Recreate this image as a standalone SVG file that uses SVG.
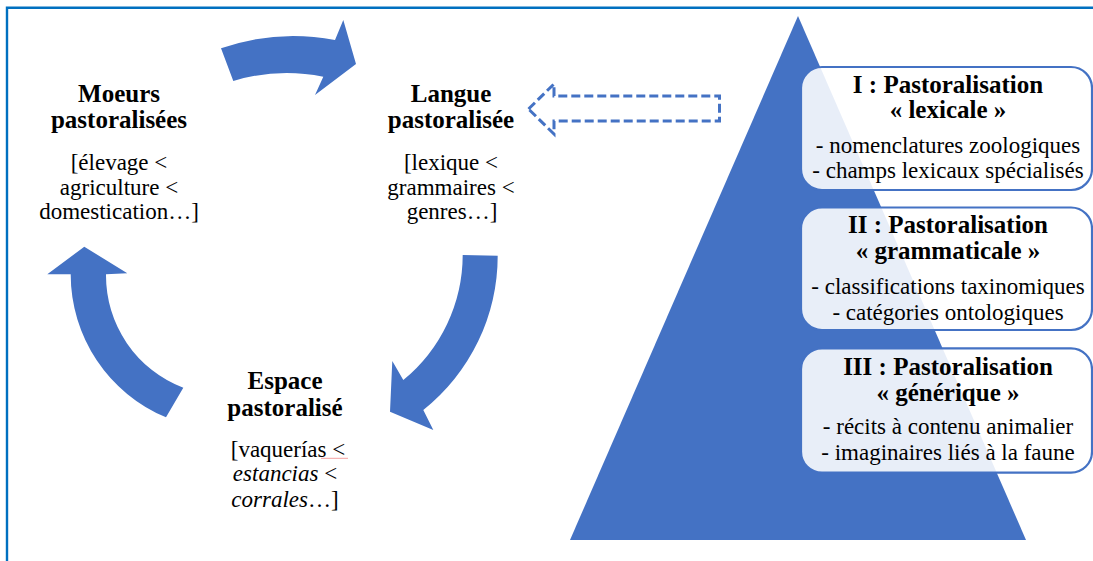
<svg xmlns="http://www.w3.org/2000/svg" width="1093" height="561" viewBox="0 0 1093 561">
  <style>
    text { font-family: "Liberation Serif", "Times New Roman", Times, serif; fill: #000000; text-anchor: middle; }
    .b { font-weight: bold; font-size: 25px; }
    .r { font-size: 23px; }
    .i { font-style: italic; }
    .arrow { fill: #4472C4; stroke: none; }
    .box { fill: #FFFFFF; fill-opacity: 0.88; stroke: #4472C4; stroke-width: 2.2; }
  </style>
  <rect x="0" y="0" width="1093" height="561" fill="#FFFFFF"/>
  <path id="frame" d="M7,561 V7.8 H1093" fill="none" stroke="#0070C0" stroke-width="2.4"/>

  <g id="pyramid">
    <polygon points="798,16 570,540 1026,540" fill="#4472C4"/>
  </g>

  <g id="connectors">
    <path class="arrow" d="M221,48.3 A220,220 0 0 1 335,40 L343.3,20 L356,64 L315,95 L323.3,76.7 A185,185 0 0 0 233.3,81 Z"/>
    <path class="arrow" d="M462.7,255 L497.7,255.7 A197,197 0 0 1 423.3,410 L433.3,430 L390,411.7 L392.3,361 L403.3,380 A162,162 0 0 0 462.7,255 Z"/>
    <path class="arrow" d="M166,417.3 A155,155 0 0 1 70.7,274.3 L47.3,274.3 L84.3,246.7 L127.3,273.3 L106,274.3 A120,120 0 0 0 183.3,387.7 Z"/>
    <polygon points="528.5,109 554,84 554,96 719.5,96 719.5,121 554,121 554,134" fill="none" stroke="#4472C4" stroke-width="3" stroke-dasharray="9,4"/>
  </g>

  <g font-family="Liberation Serif, serif">
  <g id="moeurs">
    <text class="b" x="119" y="102">Moeurs</text>
    <text class="b" x="119" y="128">pastoralisées</text>
    <text class="r" x="119" y="170">[élevage &lt;</text>
    <text class="r" x="119" y="194.5">agriculture &lt;</text>
    <text class="r" x="119" y="218.5">domestication…]</text>
  </g>

  <g id="langue">
    <text class="b" x="451" y="102">Langue</text>
    <text class="b" x="451" y="128">pastoralisée</text>
    <text class="r" x="451" y="170">[lexique &lt;</text>
    <text class="r" x="451" y="194.5">grammaires &lt;</text>
    <text class="r" x="452" y="218.5">genres…]</text>
  </g>

  <g id="espace">
    <text class="b" x="285" y="389">Espace</text>
    <text class="b" x="285" y="416">pastoralisé</text>
    <text class="r" x="288" y="457">[vaquerías &lt;</text>
    <line x1="321" y1="458.3" x2="348" y2="458.3" stroke="#F4A0A0" stroke-width="1"/>
    <text class="r" x="285" y="481"><tspan class="i">estancias</tspan> &lt;</text>
    <text class="r" x="285" y="507"><tspan class="i">corrales</tspan>…]</text>
  </g>

  <g id="level1">
    <rect class="box" x="801" y="67" width="291" height="123" rx="21" ry="21"/>
    <text class="b" x="948" y="92.7">I : Pastoralisation</text>
    <text class="b" x="948" y="118.3">« lexicale »</text>
    <text class="r" x="948" y="153.3">- nomenclatures zoologiques</text>
    <text class="r" x="948" y="178.3">- champs lexicaux spécialisés</text>
  </g>

  <g id="level2">
    <rect class="box" x="801" y="207.5" width="291" height="122.5" rx="21" ry="21"/>
    <text class="b" x="948" y="233.3">II : Pastoralisation</text>
    <text class="b" x="948" y="259.3">« grammaticale »</text>
    <text class="r" x="948" y="294">- classifications taxinomiques</text>
    <text class="r" x="948" y="319.5">- catégories ontologiques</text>
  </g>

  <g id="level3">
    <rect class="box" x="801" y="348.3" width="291" height="124.4" rx="21" ry="21"/>
    <text class="b" x="948" y="374.5">III : Pastoralisation</text>
    <text class="b" x="948" y="400.7">« générique »</text>
    <text class="r" x="948" y="434">- récits à contenu animalier</text>
    <text class="r" x="948" y="459.5">- imaginaires liés à la faune</text>
  </g>
  </g>
</svg>
